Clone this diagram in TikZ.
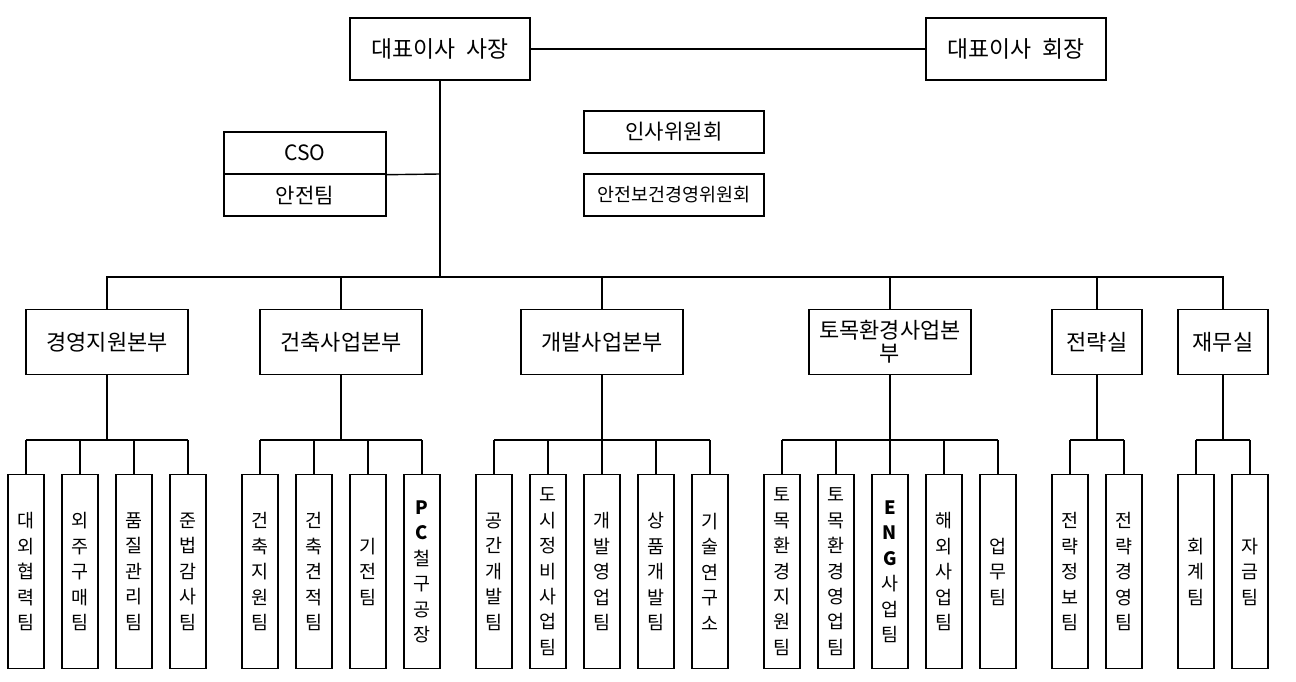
\documentclass[tikz,border=0pt]{standalone}
\usepackage{fontspec}
\setmainfont{Noto Sans CJK KR}
\usetikzlibrary{positioning}
\tikzset{
  box/.style={draw, thick, fill=white, inner sep=1pt, align=center},
  top/.style={box, minimum width=3.6cm, minimum height=1.24cm, font=\fontsize{13}{15}\selectfont},
  side/.style={box, minimum width=3.24cm, minimum height=0.84cm, font=\fontsize{12}{14}\selectfont},
  div/.style={box, minimum width=3.24cm, minimum height=1.3cm, font=\fontsize{12.5}{13}\selectfont},
  divs/.style={div, minimum width=1.8cm},
  team/.style={box, anchor=north, minimum width=0.72cm, minimum height=3.88cm, font=\fontsize{10.5}{14.5}\selectfont}
}
\begin{document}
\begin{tikzpicture}[x=0.02cm, y=-0.02cm, thick]
\useasboundingbox (0,0) rectangle (1296,682);
% top level
\node[top] (ceo) at (440,49) {대표이사 \ 사장};
\node[top] (chair) at (1016,49) {대표이사 \ 회장};
\draw (ceo) -- (chair);
\node[side, minimum width=3.6cm] (hr) at (674,132) {인사위원회};
\node[side, minimum width=3.6cm, font=\fontsize{10.5}{12}\selectfont] (safe) at (674,195) {안전보건경영위원회};
\node[side] (cso) at (305,153) {CSO};
\node[side] (sft) at (305,195) {안전팀};
\coordinate (trunk) at (440,277);
\coordinate (join) at (440,174);
\draw (ceo) -- (trunk);
\draw (cso.south east) -- (join);
% divisions
\node[div] (d1) at (107,342) {경영지원본부};
\node[div] (d2) at (341,342) {건축사업본부};
\node[div] (d3) at (602,342) {개발사업본부};
\node[div] (d4) at (890,342) {토목환경사업본\\부};
\node[divs] (d5) at (1097,342) {전략실};
\node[divs] (d6) at (1223,342) {재무실};
\draw (d1.north) |- (trunk) -| (d6.north);
\foreach \d in {d2,d3,d4,d5}
  \draw (\d.north) -- (\d.north |- trunk);
% teams
\foreach \g/\list in {
  1/{26/대\\외\\협\\력\\팀, 80/외\\주\\구\\매\\팀, 134/품\\질\\관\\리\\팀, 188/준\\법\\감\\사\\팀},
  2/{260/건\\축\\지\\원\\팀, 314/건\\축\\견\\적\\팀, 368/기\\전\\팀, 422/\textbf{P}\\\textbf{C}\\철\\구\\공\\장},
  3/{494/공\\간\\개\\발\\팀, 548/도\\시\\정\\비\\사\\업\\팀, 602/개\\발\\영\\업\\팀, 656/상\\품\\개\\발\\팀, 710/기\\술\\연\\구\\소},
  4/{782/토\\목\\환\\경\\지\\원\\팀, 836/토\\목\\환\\경\\영\\업\\팀, 890/\textbf{E}\\\textbf{N}\\\textbf{G}\\사\\업\\팀, 944/해\\외\\사\\업\\팀, 998/업\\무\\팀},
  5/{1070/전\\략\\정\\보\\팀, 1124/전\\략\\경\\영\\팀},
  6/{1196/회\\계\\팀, 1250/자\\금\\팀}} {
  \coordinate (b\g) at (d\g |- 0,440);
  \draw (d\g) -- (b\g);
  \foreach \x/\t [count=\i] in \list {
    \node[team] (t\g-\i) at (\x,474) {\t};
    \draw (t\g-\i.north) -- (t\g-\i.north |- b\g);
  }
}
\draw (t1-1.north |- b1) -- (t1-4.north |- b1);
\draw (t2-1.north |- b2) -- (t2-4.north |- b2);
\draw (t3-1.north |- b3) -- (t3-5.north |- b3);
\draw (t4-1.north |- b4) -- (t4-5.north |- b4);
\draw (t5-1.north |- b5) -- (t5-2.north |- b5);
\draw (t6-1.north |- b6) -- (t6-2.north |- b6);
\end{tikzpicture}
\end{document}
